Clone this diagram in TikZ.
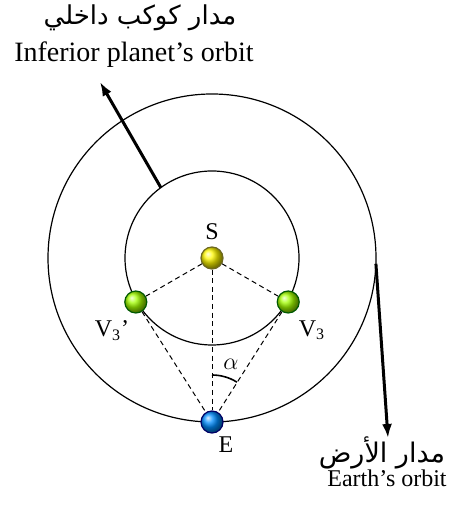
\documentclass[tikz,border=0pt]{standalone}
\usepackage{fontspec}
\setmainfont{Liberation Serif}
\newfontfamily\arabicfont[Script=Arabic]{DejaVu Sans}
\TeXXeTstate=1
\usetikzlibrary{arrows.meta, positioning, calc}
\tikzset{orbit/.style={draw,line width=0.6pt},ball/.style={circle,draw,line width=0.6pt,shading=ball,minimum size=11pt,inner sep=0pt},sight/.style={dash pattern=on 2.5pt off 1.8pt,line width=0.5pt},pointer/.style={-{Latex[length=7pt,width=5pt]},line width=1.5pt},lbl/.style={font=\fontsize{12}{14}\selectfont,inner sep=1pt},title/.style={font=\fontsize{14}{16}\selectfont,inner sep=1pt}}

\begin{document}
\begin{tikzpicture}[x=0.5pt,y=0.5pt]
\useasboundingbox (0,0) rectangle (456,512);
\coordinate (S) at (212,254);
\draw[orbit] (S) circle[radius=164];
\draw[orbit] (S) circle[radius=87];
\node[ball, ball color=yellow!95!orange, draw=olive!70!black] (sun) at (S) {};
\node[ball, ball color=lime!85!green, draw=green!35!black] (v3) at ($(S)+(-30:88)$) {};
\node[ball, ball color=lime!85!green, draw=green!35!black] (v3p) at ($(S)+(-150:88)$) {};
\node[ball, ball color=cyan!55!blue, draw=blue!40!black] (earth) at ($(S)+(-90:164)$) {};
\node[lbl, above=2pt of sun] (slbl) {S};
\node[lbl, below right=4pt and 0pt of v3] (v3lbl) {V\textsubscript{3}};
\node[lbl, below left=4pt and -2pt of v3p] (v3plbl) {V\textsubscript{3}’};
\node[lbl, below right=2pt and -2pt of earth] (elbl) {E};
\draw[sight] (sun) -- (v3);
\draw[sight] (sun) -- (v3p);
\draw[sight] (sun) -- (earth);
\draw[sight] (v3) -- (earth);
\draw[sight] (v3p) -- (earth);
\draw[line width=0.8pt] ($(earth)+(90:47)$) arc[start angle=90, end angle=58, radius=47];
\node[lbl, font=\fontsize{13}{14}\selectfont] (alpha) at ($(earth)+(19,58)$) {$\alpha$};
% inferior planet's orbit
\node[title, font=\arabicfont\fontsize{13}{15}\selectfont] (innerar) at (140,494) {\beginR مدار كوكب داخلي\endR};
\node[title] (inneren) at (134,457) {Inferior planet’s orbit};
\coordinate (innerpt) at ($(S)+(126:87)$);
\coordinate (innertip) at (100,430);
\draw[pointer] (innerpt) -- (innertip);
% earth's orbit
\node[title, font=\arabicfont\fontsize{13.5}{15}\selectfont] (outerar) at (382,59) {\beginR مدار الأرض\endR};
\node[lbl] (outeren) at (387,34) {Earth’s orbit};
\coordinate (outerpt) at ($(S)+(-2:164)$);
\coordinate (outertip) at (388,74);
\draw[pointer] (outerpt) -- (outertip);
\end{tikzpicture}
\end{document}
